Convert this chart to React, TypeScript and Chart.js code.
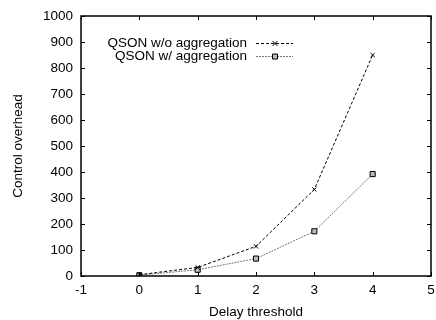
import React, { useEffect, useRef } from "react";
import { Chart, registerables } from "chart.js";

Chart.register(...registerables);

const delays = [0, 1, 2, 3, 4];
const withoutAgg = [5, 33, 114, 333, 850];
const withAgg = [3, 24, 67, 172, 392];
const seriesNames = ["QSON w/o aggregation", "QSON w/ aggregation"];
const xTitle = "Delay threshold";
const yTitle = "Control overhead";

const FONT = "'Liberation Sans', Arial, sans-serif";
const FS = 13.5;

function drawMarker(ctx: CanvasRenderingContext2D, style: string, x: number, y: number) {
  ctx.save();
  ctx.setLineDash([]);
  ctx.strokeStyle = "#000";
  ctx.lineWidth = 1;
  ctx.beginPath();
  if (style === "crossRot") {
    ctx.moveTo(x - 2.5, y - 2.5);
    ctx.lineTo(x + 2.5, y + 2.5);
    ctx.moveTo(x + 2.5, y - 2.5);
    ctx.lineTo(x - 2.5, y + 2.5);
    ctx.stroke();
  } else {
    ctx.fillStyle = "#bbb";
    ctx.rect(x - 2.5, y - 2.5, 5, 5);
    ctx.fill();
    ctx.stroke();
  }
  ctx.restore();
}

const framePlugin = {
  id: "frame",
  afterDraw(chart: any) {
    const ctx: CanvasRenderingContext2D = chart.ctx;
    const { left, right, top, bottom } = chart.chartArea;
    const xs = chart.scales.x;
    const ys = chart.scales.y;
    ctx.save();
    ctx.strokeStyle = "#000";
    ctx.lineWidth = 1;
    ctx.setLineDash([]);
    ctx.beginPath();
    const L = 4;
    xs.ticks.forEach((t: any) => {
      const px = Math.round(xs.getPixelForValue(t.value)) + 0.5;
      ctx.moveTo(px, bottom);
      ctx.lineTo(px, bottom - L);
      ctx.moveTo(px, top);
      ctx.lineTo(px, top + L);
    });
    ys.ticks.forEach((t: any) => {
      const py = Math.round(ys.getPixelForValue(t.value)) + 0.5;
      ctx.moveTo(left, py);
      ctx.lineTo(left + L, py);
      ctx.moveTo(right, py);
      ctx.lineTo(right - L, py);
    });
    ctx.stroke();
    ctx.lineWidth = 1.5;
    ctx.strokeRect(left, top, right - left, bottom - top);

    // legend
    const rows = [43, 56];
    chart.data.datasets.forEach((ds: any, i: number) => {
      const y = rows[i];
      ctx.font = `${FS}px ${FONT}`;
      ctx.fillStyle = "#000";
      ctx.textAlign = "right";
      ctx.textBaseline = "middle";
      ctx.fillText(ds.label, 247, y);
      ctx.beginPath();
      ctx.lineWidth = 1;
      ctx.strokeStyle = ds.borderColor;
      ctx.setLineDash(ds.borderDash);
      ctx.moveTo(256, y + 0.5);
      ctx.lineTo(293, y + 0.5);
      ctx.stroke();
      drawMarker(ctx, ds.pointStyle, 275, y + 0.5);
    });
    ctx.restore();
  },
};

export default function App() {
  const ref = useRef<HTMLCanvasElement>(null);
  useEffect(() => {
    if (!ref.current) return;
    const chart = new Chart(ref.current, {
      type: "line",
      data: {
        datasets: [
          {
            label: seriesNames[0],
            data: delays.map((d, i) => ({ x: d, y: withoutAgg[i] })),
            borderColor: "#000",
            borderWidth: 1,
            borderDash: [3, 2],
            pointStyle: "crossRot",
            pointRadius: 3,
            pointBorderColor: "#000",
            pointBorderWidth: 1,
            fill: false,
          },
          {
            label: seriesNames[1],
            data: delays.map((d, i) => ({ x: d, y: withAgg[i] })),
            borderColor: "#777",
            borderWidth: 1,
            borderDash: [2, 1],
            pointStyle: "rect",
            pointRadius: 3.6,
            pointBackgroundColor: "#bbb",
            pointBorderColor: "#000",
            pointBorderWidth: 1,
            fill: false,
          },
        ],
      },
      options: {
        animation: false,
        responsive: false,
        layout: { padding: { top: 16, right: 4, left: 10, bottom: 0 } },
        plugins: { legend: { display: false }, tooltip: { enabled: false } },
        scales: {
          x: {
            type: "linear",
            min: -1,
            max: 5,
            ticks: { stepSize: 1, color: "#000", font: { family: FONT, size: FS }, padding: 6 },
            grid: { display: false, drawTicks: false },
            border: { display: false },
            title: { display: true, text: xTitle, color: "#000", font: { family: FONT, size: FS }, padding: { top: 3, bottom: 0 } },
            afterFit: (s: any) => { s.height = 44; s.paddingLeft = 0; s.paddingRight = 0; },
          },
          y: {
            type: "linear",
            min: 0,
            max: 1000,
            ticks: {
              stepSize: 100,
              color: "#000",
              font: { family: FONT, size: FS },
              padding: 8,
              callback: (v: any) => String(v),
            },
            grid: { display: false, drawTicks: false },
            border: { display: false },
            title: { display: true, text: yTitle, color: "#000", font: { family: FONT, size: FS }, padding: { top: 0, bottom: 4 } },
            afterFit: (s: any) => { s.width = 71; s.paddingTop = 0; s.paddingBottom = 0; },
          },
        },
      },
      plugins: [framePlugin],
    } as any);
    return () => chart.destroy();
  }, []);
  return (
    <div style={{ position: "absolute", left: 0, top: 0, width: 436, height: 320, background: "#fff" }}>
      <canvas ref={ref} width={436} height={320} />
    </div>
  );
}
